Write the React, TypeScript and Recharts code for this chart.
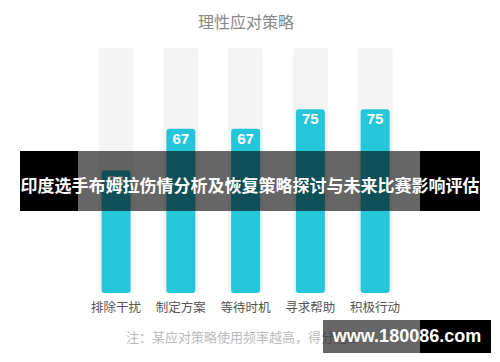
import React from "react"
import { BarChart, Bar, XAxis, YAxis, LabelList } from "recharts"

const categories = ["排除干扰", "制定方案", "等待时机", "寻求帮助", "积极行动"]
const scores = [50, 67, 67, 75, 75]
const maxScore = 100

const chartTitle = "理性应对策略"
const footnote = "注：某应对策略使用频率越高，得分越高"
const bannerText = "印度选手布姆拉伤情分析及恢复策略探讨与未来比赛影响评估"
const watermarkText = "www.180086.com"

const font = "'Noto Sans CJK SC', 'Noto Sans', sans-serif"

const data = categories.map((name, i) => ({ name, value: scores[i], track: maxScore }))

const CategoryTick = (props: any) => {
  const { x, y, payload } = props
  return (
    <text x={x} y={y + 19} textAnchor="middle" fontSize={12.5} fill="#555" fontFamily={font}>
      {payload.value}
    </text>
  )
}

const ValueLabel = (props: any) => {
  const { x, y, width, value } = props
  return (
    <text
      x={x + width / 2}
      y={y + 9.5}
      textAnchor="middle"
      dominantBaseline="central"
      fontSize={15}
      fontWeight="bold"
      fill="#fff"
      fontFamily="'Liberation Sans', Arial, sans-serif"
    >
      {value}
    </text>
  )
}

export default function App() {
  return (
    <div style={{ position: "absolute", left: 0, top: 0, width: 500, height: 362, background: "#fff", fontFamily: font }}>
      <div style={{ position: "absolute", left: 0, width: 492, top: 10, textAlign: "center", fontSize: 16, lineHeight: "22px", color: "#888" }}>
        {chartTitle}
      </div>

      <BarChart width={500} height={362} data={data} margin={{ top: 48, right: 92.6, left: 83.6, bottom: 39 }}>
        <XAxis xAxisId="track" dataKey="name" hide />
        <XAxis
          xAxisId="main"
          dataKey="name"
          height={30}
          axisLine={false}
          tickLine={false}
          tickSize={0}
          tickMargin={0}
          tick={<CategoryTick />}
          interval={0}
        />
        <YAxis hide domain={[0, maxScore]} />
        <Bar xAxisId="track" dataKey="track" fill="#f4f4f4" barSize={35} radius={3} isAnimationActive={false} />
        <Bar xAxisId="main" dataKey="value" fill="#26c6da" barSize={29} radius={3} isAnimationActive={false}>
          <LabelList dataKey="value" content={<ValueLabel />} />
        </Bar>
      </BarChart>

      <div style={{ position: "absolute", left: 0, width: 486, top: 327, textAlign: "center", fontSize: 13, lineHeight: "20px", color: "#bbb" }}>
        {footnote}
      </div>

      {/* banner overlay */}
      <div style={{ position: "absolute", left: 20, top: 151, width: 58, height: 60, background: "#000" }} />
      <div style={{ position: "absolute", left: 78, top: 151, width: 342, height: 60, background: "rgba(0,0,0,0.6)" }} />
      <div style={{ position: "absolute", left: 420, top: 151, width: 60, height: 60, background: "#000" }} />
      <div style={{ position: "absolute", left: 20, top: 151, width: 460, height: 60, lineHeight: "68px", textAlign: "center", color: "#fff", fontWeight: "bold", fontSize: 17, whiteSpace: "nowrap" }}>
        {bannerText}
      </div>

      {/* watermark */}
      <div style={{ position: "absolute", left: 323, top: 320, width: 97, height: 33, background: "rgba(0,0,0,0.6)" }} />
      <div style={{ position: "absolute", left: 420, top: 320, width: 71, height: 33, background: "#000" }} />
      <div style={{ position: "absolute", left: 323, top: 320, width: 168, height: 33, lineHeight: "33px", textAlign: "center", color: "#fff", fontWeight: "bold", fontSize: 18, fontFamily: "'Liberation Sans', Arial, sans-serif", whiteSpace: "nowrap" }}>
        {watermarkText}
      </div>
    </div>
  )
}
